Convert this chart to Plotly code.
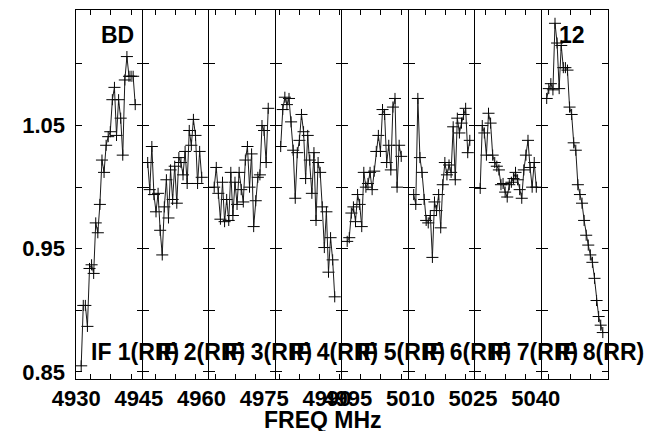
import plotly.graph_objects as go

# ---------------- data ----------------
freq_tick_vals = [4930, 4945, 4960, 4975, 4990, 4995, 5010, 5025, 5040]
freq_tick_text = ["4930", "4945", "4960", "4975", "4990", "4995", "5010", "5025", "5040"]
y_tick_vals = [0.85, 0.90, 0.95, 1.00, 1.05, 1.10]
y_tick_text = ["0.85", "", "0.95", "", "1.05", ""]
if_labels = ["IF 1(RR)", "IF 2(RR)", "IF 3(RR)", "IF 4(RR)",
             "IF 5(RR)", "IF 6(RR)", "IF 7(RR)", "IF 8(RR)"]
chan_width_mhz = 0.5   # channel spacing inside one IF (MHz)
if_width_mhz = 16.0    # bandwidth of one IF (MHz)

# first channel index plotted in each IF
first_chan = [2, 2, 2, 2, 2, 2, 2, 2]

if1 = [0.855, 0.904, 0.904, 0.887, 0.934, 0.937, 0.930, 0.971, 0.963, 0.986,
       1.022, 1.012, 1.034, 1.041, 1.045, 1.071, 1.081, 1.042, 1.071, 1.056,
       1.026, 1.087, 1.106, 1.090, 1.090, 1.090, 1.067]
if2 = [1.020, 0.998, 1.033, 0.994, 0.980, 0.995, 0.965, 0.945, 0.984, 1.006,
       0.975, 1.014, 0.990, 1.017, 0.987, 1.024, 1.020, 1.010, 1.029, 1.003,
       1.046, 1.034, 1.055, 1.042, 1.003, 1.029, 1.008]
if3 = [1.000, 1.016, 0.995, 0.974, 1.004, 0.972, 0.990, 0.973, 1.012, 0.977,
       1.004, 0.986, 1.012, 0.998, 0.988, 1.022, 1.033, 1.000, 1.027, 0.968,
       0.989, 1.008, 1.010, 1.050, 1.046, 1.020, 1.064]
if4 = [1.033, 1.063, 1.073, 1.067, 1.072, 1.053, 1.030, 0.991, 1.028, 1.038,
       1.059, 1.045, 1.007, 1.042, 1.022, 0.995, 1.028, 0.973, 1.020, 1.012,
       0.984, 0.951, 0.980, 0.931, 0.959, 0.941, 0.911]
if5 = [0.956, 0.959, 0.979, 0.984, 0.972, 0.994, 0.986, 0.968, 1.012, 1.000,
       1.003, 1.012, 0.998, 1.013, 1.029, 1.042, 1.029, 1.063, 1.059, 1.020,
       1.034, 1.014, 1.065, 1.072, 1.000, 1.034, 1.025]
if6 = [0.994, 0.986, 1.072, 1.024, 1.012, 0.990, 0.973, 0.971, 0.977, 0.943,
       0.988, 0.981, 0.994, 0.967, 1.002, 1.020, 1.010, 1.018, 1.012, 1.049,
       1.006, 1.056, 1.044, 1.052, 1.059, 1.064, 1.028, 1.038]
if7 = [0.999, 1.050, 1.044, 1.026, 1.060, 1.052, 1.026, 1.020, 1.017, 1.014,
       1.002, 1.003, 0.996, 0.992, 1.002, 1.004, 1.007, 1.012, 1.006, 0.998,
       0.991, 1.014, 1.026, 1.038, 1.016, 1.000, 1.020, 1.000]
if8 = [1.072, 1.080, 1.084, 1.079, 1.133, 1.117, 1.080, 1.115, 1.097, 1.097,
       1.095, 1.065, 1.059, 1.036, 1.030, 1.002, 0.994, 0.987, 0.973, 0.961,
       0.953, 0.945, 0.939, 0.926, 0.908, 0.895, 0.888, 0.882]
if_values = [if1, if2, if3, if4, if5, if6, if7, if8]

# minor frequency ticks inside each IF (MHz from IF start)
if_minor_ticks = [
    [3.47, 8.28, 13.24],
    [3.13, 7.85, 12.83],
    [1.54, 6.36, 11.17],
    [1.04, 5.85, 10.66, 15.31],
    [4.50, 9.32, 14.28],
    [4.09, 8.91, 13.72],
    [2.41, 7.22, 12.04],
    [1.78, 6.98, 11.80],
]

# ---------------- figure ----------------
Y_RANGE = [0.8443, 1.1438]
FREQ_RANGE = [4929.95, 5057.3]
FONT = dict(family="Liberation Sans, Arial, sans-serif", color="black", size=22, weight="bold")

fig = go.Figure()
n_if = len(if_values)

# invisible trace carrying the overall frequency axis
fig.add_trace(go.Scatter(x=freq_tick_vals, y=[y_tick_vals[0]] * len(freq_tick_vals),
                         xaxis="x", yaxis="y", mode="markers",
                         marker=dict(opacity=0), showlegend=False, hoverinfo="skip"))

for k, vals in enumerate(if_values):
    xs = [(first_chan[k] + i + 0.5) * chan_width_mhz for i in range(len(vals))]
    fig.add_trace(go.Scatter(
        x=xs, y=vals, xaxis=f"x{k + 2}", yaxis=f"y{k + 2}",
        mode="lines+markers",
        line=dict(color="#1a1a1a", width=1),
        marker=dict(size=1, color="black"),
        error_x=dict(type="constant", value=1.45, width=0, thickness=1, color="black"),
        error_y=dict(type="constant", value=0.0045, width=0, thickness=1, color="black"),
        showlegend=False, hoverinfo="skip"))

layout = dict(
    width=652, height=431,
    margin=dict(l=76, r=44, t=10, b=52),
    paper_bgcolor="white", plot_bgcolor="white",
    font=FONT,
    showlegend=False,
    xaxis=dict(domain=[0, 1], anchor="y", range=FREQ_RANGE,
               tickmode="array", tickvals=freq_tick_vals, ticktext=freq_tick_text,
               tickangle=0, ticks="", showline=False, showgrid=False, zeroline=False,
               ticklabelstandoff=4, tickfont=dict(size=22)),
    yaxis=dict(domain=[0, 1], anchor="x", range=Y_RANGE,
               tickmode="array", tickvals=y_tick_vals, ticktext=y_tick_text,
               ticks="", showline=False, showgrid=False, zeroline=False,
               ticklabelstandoff=10, tickfont=dict(size=22)),
)

for k in range(n_if):
    layout[f"xaxis{k + 2}"] = dict(
        domain=[k / n_if, (k + 1) / n_if], anchor=f"y{k + 2}",
        range=[0, if_width_mhz], tickmode="array", tickvals=if_minor_ticks[k],
        showticklabels=False, ticks="inside", ticklen=5, tickcolor="black", tickwidth=1,
        showline=True, linecolor="black", linewidth=1, mirror="ticks",
        showgrid=False, zeroline=False)
    layout[f"yaxis{k + 2}"] = dict(
        domain=[0, 1], anchor=f"x{k + 2}", range=Y_RANGE,
        tickmode="array", tickvals=y_tick_vals,
        showticklabels=False, ticks="inside", ticklen=6, tickcolor="black", tickwidth=1,
        showline=True, linecolor="black", linewidth=1, mirror="ticks",
        showgrid=False, zeroline=False)

annotations = []
for k, lab in enumerate(if_labels):
    annotations.append(dict(text=lab, xref=f"x{k + 2}", yref="y", x=3.1, y=0.866,
                            xanchor="left", yanchor="middle", showarrow=False,
                            font=dict(size=23)))
annotations.append(dict(text="BD", xref="paper", yref="paper", x=0.043, y=0.932,
                        xanchor="left", yanchor="middle", showarrow=False, font=dict(size=23)))
annotations.append(dict(text="12", xref="paper", yref="paper", x=0.904, y=0.932,
                        xanchor="left", yanchor="middle", showarrow=False, font=dict(size=23)))
annotations.append(dict(text="FREQ MHz", xref="paper", yref="paper", x=0.464, y=-0.112,
                        xanchor="center", yanchor="middle", showarrow=False, font=dict(size=23)))
layout["annotations"] = annotations

fig.update_layout(**layout)
fig.write_html("out.html", config={"displayModeBar": False},
               post_script="document.body.style.margin='0';document.body.style.overflow='hidden';")
